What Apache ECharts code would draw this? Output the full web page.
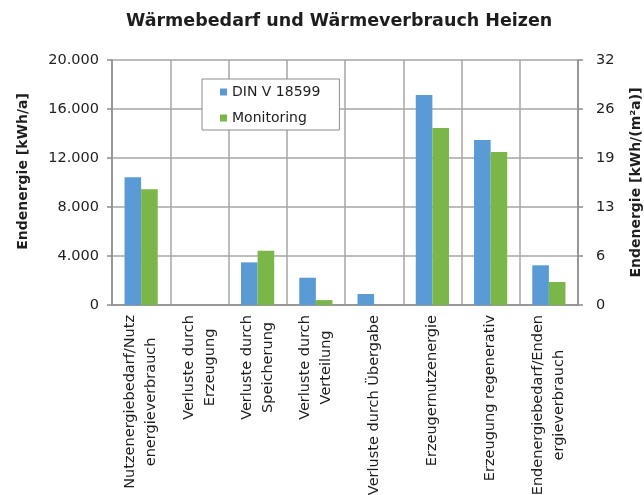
<!DOCTYPE html>
<html>
<head>
<meta charset="utf-8">
<script src="https://cdn.jsdelivr.net/npm/echarts@6/dist/echarts.min.js"></script>
<style>
  html, body { margin: 0; padding: 0; background: #fff; }
  #chart { width: 644px; height: 495px; }
</style>
</head>
<body>
<div id="chart"></div>
<script>
const categories = [
  'Nutzenergiebedarf/Nutz\nenergieverbrauch',
  'Verluste durch\nErzeugung',
  'Verluste durch\nSpeicherung',
  'Verluste durch\nVerteilung',
  'Verluste durch Übergabe',
  'Erzeugernutzenergie',
  'Erzeugung regenerativ',
  'Endenergiebedarf/Enden\nergieverbrauch'
];
const dinValues = [10420, 0, 3480, 2230, 900, 17150, 13470, 3240];
const monitoringValues = [9450, 0, 4430, 400, 0, 14450, 12500, 1880];
const seriesNames = ['DIN V 18599', 'Monitoring'];
const leftTicks = [0, 4000, 8000, 12000, 16000, 20000];
const rightTicks = [0, 6.4, 12.8, 19.2, 25.6, 32];

const font = 'DejaVu Sans';
const textColor = '#1e1e1e';
const gridColor = '#a6a6a6';
const axisColor = '#8c8c8c';

function germanThousands(v) {
  return String(Math.round(v)).replace(/\B(?=(\d{3})+(?!\d))/g, '.');
}

const chart = echarts.init(document.getElementById('chart'));

const option = {
  backgroundColor: '#fff',
  animation: false,
  title: {
    text: 'Wärmebedarf und Wärmeverbrauch Heizen',
    left: 121,
    top: 7,
    textStyle: { fontFamily: font, fontWeight: 'bold', fontSize: 17.5, color: textColor }
  },
  legend: {
    orient: 'vertical',
    left: 202,
    top: 79,
    data: seriesNames,
    icon: 'rect',
    itemWidth: 7,
    itemHeight: 7,
    itemGap: 8,
    padding: [4, 19, 3, 18],
    borderColor: axisColor,
    borderWidth: 1,
    backgroundColor: '#fff',
    textStyle: { fontFamily: font, fontSize: 14, lineHeight: 18, color: textColor }
  },
  grid: { left: 112, right: 66, top: 60, bottom: 190, outerBoundsMode: 'none', containLabel: false },
  xAxis: {
    type: 'category',
    data: categories,
    axisLine: { lineStyle: { color: axisColor, width: 1.5 } },
    axisTick: { show: false },
    splitLine: { show: true, interval: 0, lineStyle: { color: gridColor, width: 1.5 } },
    axisLabel: {
      interval: 0,
      rotate: 90,
      margin: 10,
      formatter: v => v.split('\n').map(s => '{c|' + s + '}').join('\n'),
      rich: {
        c: { align: 'center', fontFamily: font, fontSize: 14.5, lineHeight: 21, color: textColor }
      }
    }
  },
  yAxis: [
    {
      type: 'value',
      min: leftTicks[0],
      max: leftTicks[leftTicks.length - 1],
      interval: leftTicks[1] - leftTicks[0],
      name: 'Endenergie [kWh/a]',
      nameLocation: 'middle',
      nameGap: 82,
      nameTextStyle: { fontFamily: font, fontWeight: 'bold', fontSize: 14, color: textColor, padding: [0, 0, 0, 22] },
      axisLine: { show: true, lineStyle: { color: axisColor, width: 1.5 } },
      axisTick: { show: true, length: 5, lineStyle: { color: axisColor, width: 1.5 } },
      splitLine: { lineStyle: { color: gridColor, width: 1.5 } },
      axisLabel: { margin: 13, fontFamily: font, fontSize: 14.5, color: textColor, formatter: germanThousands }
    },
    {
      type: 'value',
      position: 'right',
      min: rightTicks[0],
      max: rightTicks[rightTicks.length - 1],
      interval: rightTicks[1] - rightTicks[0],
      name: 'Endenergie [kWh/(m²a)]',
      nameLocation: 'middle',
      nameGap: 51,
      nameTextStyle: { fontFamily: font, fontWeight: 'bold', fontSize: 14, color: textColor },
      axisLine: { show: true, lineStyle: { color: axisColor, width: 1.5 } },
      axisTick: { show: true, length: 5, lineStyle: { color: axisColor, width: 1.5 } },
      splitLine: { show: false },
      axisLabel: { margin: 18, fontFamily: font, fontSize: 14.5, color: textColor, formatter: v => String(Math.round(v)) }
    }
  ],
  series: [
    {
      name: seriesNames[0],
      type: 'bar',
      data: dinValues,
      barGap: '0%',
      barCategoryGap: '43%',
      itemStyle: { color: '#5b9bd5' }
    },
    {
      name: seriesNames[1],
      type: 'bar',
      data: monitoringValues,
      itemStyle: { color: '#7ab648' }
    }
  ]
};

chart.setOption(option);
</script>
</body>
</html>
